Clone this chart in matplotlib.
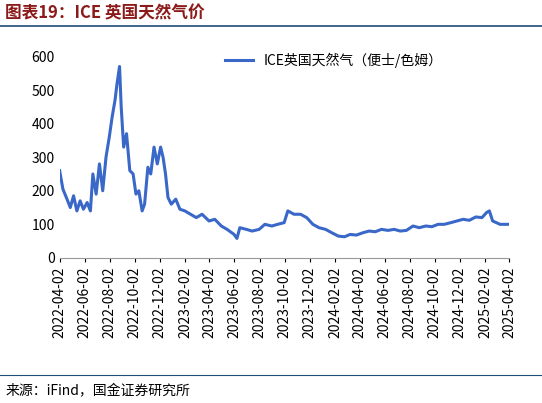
import matplotlib
matplotlib.use('Agg')
import matplotlib.pyplot as plt
import matplotlib.dates as mdates
import pandas as pd

plt.rcParams['font.family'] = ['Noto Sans CJK SC', 'DejaVu Sans']

dates = ['2022-04-02', '2022-04-10', '2022-04-20', '2022-04-28', '2022-05-06', '2022-05-14',
         '2022-05-22', '2022-05-30', '2022-06-08', '2022-06-16', '2022-06-22', '2022-06-30',
         '2022-07-08', '2022-07-16', '2022-07-24', '2022-08-01', '2022-08-08', '2022-08-15',
         '2022-08-20', '2022-08-26', '2022-08-30', '2022-09-05', '2022-09-12', '2022-09-20',
         '2022-09-28', '2022-10-05', '2022-10-12', '2022-10-20', '2022-10-26', '2022-11-03',
         '2022-11-10', '2022-11-18', '2022-11-26', '2022-12-04', '2022-12-10', '2022-12-16',
         '2022-12-22', '2022-12-30', '2023-01-10', '2023-01-20', '2023-02-01', '2023-02-15',
         '2023-03-01', '2023-03-15', '2023-04-01', '2023-04-15', '2023-05-01', '2023-05-15',
         '2023-06-01', '2023-06-08', '2023-06-15', '2023-07-01', '2023-07-15', '2023-08-01',
         '2023-08-15', '2023-09-01', '2023-09-15', '2023-10-01', '2023-10-10', '2023-10-25',
         '2023-11-10', '2023-11-25', '2023-12-10', '2023-12-25', '2024-01-10', '2024-01-25',
         '2024-02-10', '2024-02-25', '2024-03-10', '2024-03-25', '2024-04-10', '2024-04-25',
         '2024-05-10', '2024-05-25', '2024-06-10', '2024-06-25', '2024-07-10', '2024-07-25',
         '2024-08-10', '2024-08-25', '2024-09-10', '2024-09-25', '2024-10-10', '2024-10-25',
         '2024-11-10', '2024-11-25', '2024-12-10', '2024-12-25', '2025-01-10', '2025-01-25',
         '2025-02-05', '2025-02-12', '2025-02-20', '2025-03-01', '2025-03-10', '2025-03-20',
         '2025-04-02']
price = [260, 205, 175, 150, 185, 140, 170, 145, 165, 140, 250, 190,
         280, 200, 300, 360, 420, 470, 520, 570, 450, 330, 370, 260,
         250, 190, 200, 140, 160, 270, 250, 330, 280, 330, 300, 250,
         180, 160, 175, 145, 140, 130, 120, 130, 110, 115, 95, 85,
         70, 58, 90, 85, 80, 85, 100, 95, 100, 105, 140, 130,
         130, 120, 100, 90, 85, 75, 65, 63, 70, 68, 75, 80,
         78, 85, 82, 85, 80, 82, 95, 90, 95, 93, 100, 100,
         105, 110, 115, 112, 122, 120, 135, 140, 110, 105, 100, 100,
         100]

fig = plt.figure(figsize=(5.42, 4.03), dpi=100)
ax = fig.add_axes([0.11, 0.36, 0.83, 0.5])
ax.plot(pd.to_datetime(dates), price, color='#3A68C8', linewidth=2.2,
        label='ICE英国天然气（便士/色姆）')
ax.set_ylim(0, 600)
ax.set_yticks(range(0, 601, 100))
ax.set_xlim(pd.Timestamp('2022-04-02'), pd.Timestamp('2025-04-02'))
ticks = [pd.Timestamp('2022-04-02') + pd.DateOffset(months=2 * i) for i in range(19)]
ax.set_xticks(ticks)
ax.xaxis.set_major_formatter(mdates.DateFormatter('%Y-%m-%d'))
ax.tick_params(axis='x', rotation=90, labelsize=10, length=3)
ax.tick_params(axis='y', labelsize=10, length=0)
for s in ['top', 'right', 'left']:
    ax.spines[s].set_visible(False)
ax.spines['bottom'].set_color('#999999')
ax.legend(loc='upper right', frameon=False, fontsize=10, bbox_to_anchor=(0.88, 1.08))

fig.text(0.01, 0.955, '图表19：ICE 英国天然气价', fontsize=12, fontweight='bold',
         style='italic', color='#8B1A1A')
fig.add_artist(plt.Line2D([0.0, 1.0], [0.935, 0.935], color='#1F4E79', linewidth=1.2))
fig.add_artist(plt.Line2D([0.0, 1.0], [0.07, 0.07], color='#1F4E79', linewidth=0.8))
fig.text(0.01, 0.02, '来源：iFind，国金证券研究所', fontsize=10)

fig.savefig('out.png', dpi=100, facecolor='white')
